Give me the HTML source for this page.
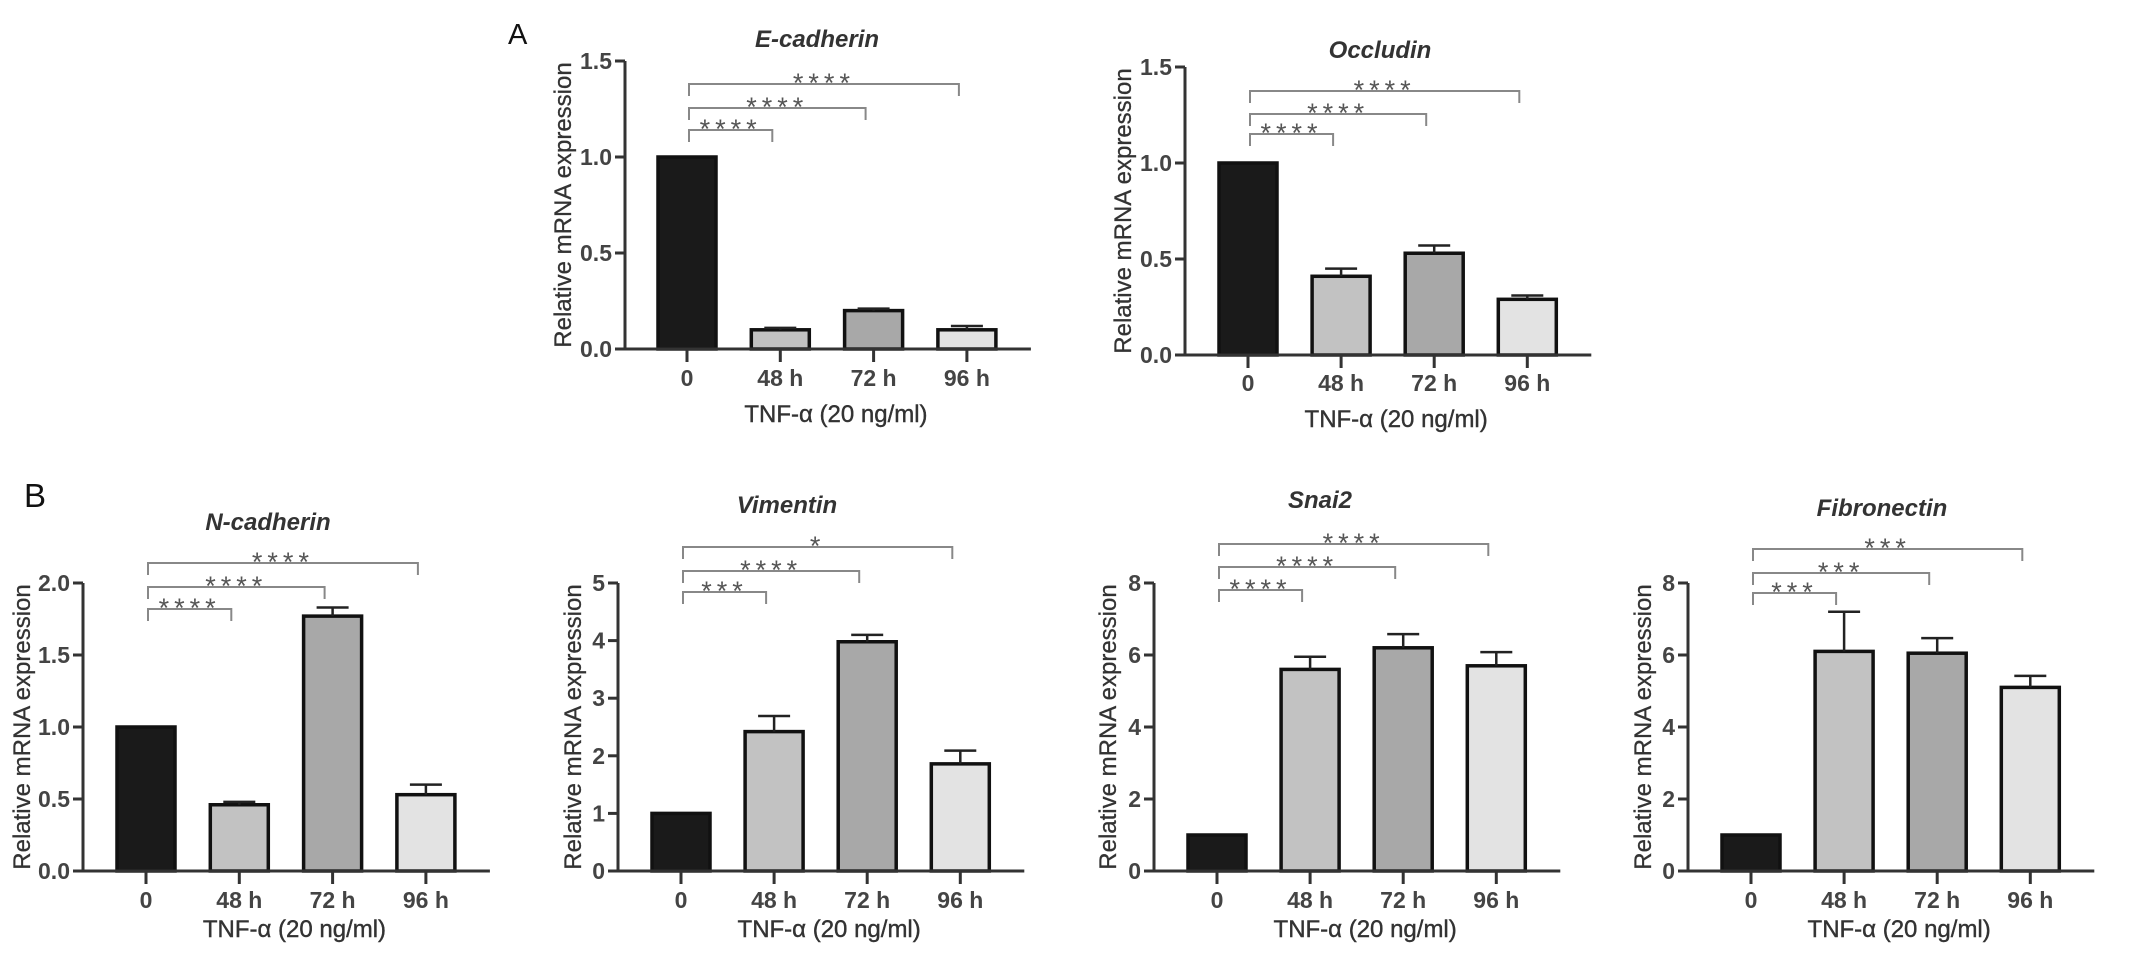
<!DOCTYPE html>
<html><head><meta charset="utf-8"><style>
html,body{margin:0;padding:0;background:#fff;}
svg{display:block;font-family:"Liberation Sans",Arial,sans-serif;}
</style></head><body>
<svg id="fig" width="2150" height="962" viewBox="0 0 2150 962" xmlns="http://www.w3.org/2000/svg">
<text x="508" y="44" font-size="29" fill="#111">A</text>
<text x="24" y="507" font-size="33" fill="#111">B</text>
</svg>
<script>
const categories = ['0', '48 h', '72 h', '96 h'];
const ecadValues = [1, 0.10, 0.20, 0.10];
const ecadErrors = [0, 0.01, 0.01, 0.02];
const ecadSig = ['****', '****', '****'];
const ecadTicks = [0, 0.5, 1.0, 1.5];
const occValues = [1, 0.41, 0.53, 0.29];
const occErrors = [0, 0.04, 0.04, 0.02];
const occSig = ['****', '****', '****'];
const occTicks = [0, 0.5, 1.0, 1.5];
const ncadValues = [1, 0.46, 1.77, 0.53];
const ncadErrors = [0, 0.02, 0.06, 0.07];
const ncadSig = ['****', '****', '****'];
const ncadTicks = [0, 0.5, 1.0, 1.5, 2.0];
const vimValues = [1, 2.42, 3.98, 1.86];
const vimErrors = [0, 0.27, 0.12, 0.23];
const vimSig = ['***', '****', '*'];
const vimTicks = [0, 1, 2, 3, 4, 5];
const snaiValues = [1, 5.6, 6.2, 5.7];
const snaiErrors = [0, 0.35, 0.38, 0.38];
const snaiSig = ['****', '****', '****'];
const snaiTicks = [0, 2, 4, 6, 8];
const fibValues = [1, 6.1, 6.05, 5.1];
const fibErrors = [0, 1.1, 0.42, 0.32];
const fibSig = ['***', '***', '***'];
const fibTicks = [0, 2, 4, 6, 8];

const NS = 'http://www.w3.org/2000/svg';
const svg = document.getElementById('fig');
const fills = ['#1a1a1a', '#c2c2c2', '#a8a8a8', '#e3e3e3'];

function mk(tag, attrs, parent, text) {
  const e = document.createElementNS(NS, tag);
  for (const k in attrs) e.setAttribute(k, attrs[k]);
  if (text !== undefined) e.textContent = text;
  parent.appendChild(e);
  return e;
}

function chart(id, title, values, errors, sig, ticks, dec, L) {
  const g = mk('g', {}, svg);
  
  
  const yMax = ticks[ticks.length - 1];
  const y = v => L.zeroY - (v / yMax) * (L.zeroY - L.topY);
  const x = i => L.c0 + i * L.step;
  const t = mk('text', {x: L.titleX, y: L.titleY + 8, 'font-size': 24, 'font-weight': 'bold', 'font-style': 'italic', fill: '#333', 'text-anchor': 'middle'}, g, title);
  
  
  values.forEach((v, i) => {
    const r = mk('rect', {x: x(i) - 29, y: y(v), width: 58, height: L.zeroY - y(v), fill: fills[i], stroke: '#111', 'stroke-width': 3.5}, g);
    
    
    if (errors[i] > 0) {
      const eb = mk('path', {d: 'M' + x(i) + ' ' + y(v) + ' V' + y(v + errors[i]) + ' M' + (x(i) - 16) + ' ' + y(v + errors[i]) + ' H' + (x(i) + 16), stroke: '#222', 'stroke-width': 2.5, fill: 'none'}, g);
      
      
    }
  });
  const ax = mk('path', {d: 'M' + L.axisX + ' ' + L.topY + ' V' + L.zeroY + ' H' + (x(3) + 64), stroke: '#333', 'stroke-width': 3, fill: 'none'}, g);
  
  
  ticks.forEach(tv => {
    mk('line', {x1: L.axisX - 10, x2: L.axisX, y1: y(tv), y2: y(tv), stroke: '#333', 'stroke-width': 3}, g);
    const tl = mk('text', {x: L.axisX - 13, y: y(tv) + 8, 'font-size': 23, 'font-weight': 'bold', fill: '#444', 'text-anchor': 'end'}, g, tv.toFixed(dec));
    
    
  });
  categories.forEach((c, i) => {
    mk('line', {x1: x(i), x2: x(i), y1: L.zeroY, y2: L.zeroY + 13, stroke: '#333', 'stroke-width': 3}, g);
    const cl = mk('text', {x: x(i), y: L.xLabelY + 8, 'font-size': 23, 'font-weight': 'bold', fill: '#444', 'text-anchor': 'middle'}, g, c);
    
    
  });
  const xt = mk('text', {x: (L.axisX + x(3) + 64) / 2 + 8, y: L.xTitleY + 9, 'font-size': 24, fill: '#333', 'text-anchor': 'middle', stroke: '#333', 'stroke-width': 0.4}, g, 'TNF-α (20 ng/ml)');
  
  
  const cy = (L.topY + L.zeroY) / 2;
  const yt = mk('text', {x: L.yTitleX + 8, y: cy, 'font-size': 24, fill: '#333', 'text-anchor': 'middle', stroke: '#333', 'stroke-width': 0.3, transform: 'rotate(-90 ' + (L.yTitleX + 8) + ' ' + cy + ')'}, g, 'Relative mRNA expression');
  
  
  sig.forEach((s, k) => {
    const by = L.br[2 - k];
    const x1 = x(0) + 2, x2 = x(k + 1) - 8;
    const b = mk('path', {d: 'M' + x1 + ' ' + (by + 12) + ' V' + by + ' H' + x2 + ' V' + (by + 12), stroke: '#888', 'stroke-width': 2, fill: 'none'}, g);
    
    
    const st = mk('text', {x: (x1 + x2) / 2, y: by + 8, 'font-size': 27, fill: '#555', 'text-anchor': 'middle', 'letter-spacing': 5}, g, s);
    
    
  });
}

chart('e-cadherin', 'E-cadherin', ecadValues, ecadErrors, ecadSig, ecadTicks, 1,
  {axisX: 625, zeroY: 349, topY: 61, c0: 687, step: 93.3, titleX: 817, titleY: 39, br: [84, 108, 130], yTitleX: 563, xLabelY: 378, xTitleY: 413});
chart('occludin', 'Occludin', occValues, occErrors, occSig, occTicks, 1,
  {axisX: 1185, zeroY: 355, topY: 67, c0: 1248, step: 93.1, titleX: 1380, titleY: 50, br: [91, 114, 134], yTitleX: 1123, xLabelY: 383, xTitleY: 418});
chart('n-cadherin', 'N-cadherin', ncadValues, ncadErrors, ncadSig, ncadTicks, 1,
  {axisX: 83, zeroY: 871, topY: 583, c0: 146, step: 93.3, titleX: 268, titleY: 522, br: [563, 587, 609], yTitleX: 22, xLabelY: 900, xTitleY: 928});
chart('vimentin', 'Vimentin', vimValues, vimErrors, vimSig, vimTicks, 0,
  {axisX: 618, zeroY: 871, topY: 583, c0: 681, step: 93.1, titleX: 787, titleY: 505, br: [547, 571, 592], yTitleX: 573, xLabelY: 900, xTitleY: 928});
chart('snai2', 'Snai2', snaiValues, snaiErrors, snaiSig, snaiTicks, 0,
  {axisX: 1154, zeroY: 871, topY: 583, c0: 1217, step: 93.1, titleX: 1320, titleY: 500, br: [544, 567, 590], yTitleX: 1108, xLabelY: 900, xTitleY: 928});
chart('fibronectin', 'Fibronectin', fibValues, fibErrors, fibSig, fibTicks, 0,
  {axisX: 1688, zeroY: 871, topY: 583, c0: 1751, step: 93.1, titleX: 1882, titleY: 508, br: [549, 573, 593], yTitleX: 1643, xLabelY: 900, xTitleY: 928});
</script>
</body></html>
